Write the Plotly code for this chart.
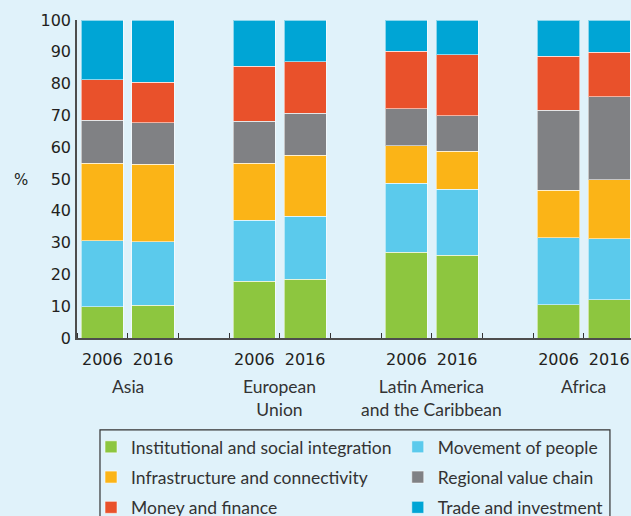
import plotly.graph_objects as go

# bar slots (gap slots between groups are left empty)
bar_x = [0, 1, 3, 4, 6, 7, 9, 10]
years = ["2006", "2016", "2006", "2016", "2006", "2016", "2006", "2016"]
group_x = [0.5, 3.5, 6.5, 9.5]
groups = ["Asia", "European<br>Union", "Latin America<br>and the Caribbean", "Africa"]

series_names = [
    "Institutional and social integration",
    "Movement of people",
    "Infrastructure and connectivity",
    "Regional value chain",
    "Money and finance",
    "Trade and investment",
]
colors = ["#8DC63F", "#5BCAEC", "#FBB417", "#808184", "#E9512B", "#00A5D5"]

# shares (%) per bar: Asia 06, Asia 16, EU 06, EU 16, LAC 06, LAC 16, Africa 06, Africa 16
institutional = [9.8, 10.3, 17.8, 18.4, 26.9, 26.0, 10.4, 12.0]
movement      = [20.8, 19.9, 19.2, 19.9, 21.7, 20.8, 21.2, 19.2]
infrastructure = [24.3, 24.4, 17.9, 19.2, 11.9, 12.0, 14.8, 18.6]
value_chain   = [13.6, 13.1, 13.2, 13.2, 11.6, 11.1, 25.2, 26.1]
money         = [12.7, 12.8, 17.4, 16.1, 18.1, 19.2, 17.0, 13.9]
trade         = [18.8, 19.5, 14.5, 13.2, 9.8, 10.9, 11.4, 10.2]

series_values = [institutional, movement, infrastructure, value_chain, money, trade]
legend_ids = ["legend", "legend2", "legend", "legend2", "legend", "legend2"]

BG = "#E0F2FA"
TXT = "#333333"

fig = go.Figure()
for name, vals, col, lg in zip(series_names, series_values, colors, legend_ids):
    fig.add_trace(go.Bar(
        x=bar_x, y=vals, name=name, width=0.83,
        marker=dict(color=col, line=dict(color="rgba(255,255,255,0.55)", width=1)),
        legend=lg, legendgroup=name,
    ))

for gx, gt in zip(group_x, groups):
    fig.add_annotation(x=gx, y=-0.113, xref="x", yref="paper", text=gt,
                       showarrow=False, yanchor="top", xanchor="center",
                       font=dict(family="Lato", size=17.5, color=TXT))

fig.add_annotation(x=-0.101, y=0.497, xref="paper", yref="paper", text="%",
                   showarrow=False, xanchor="center",
                   font=dict(family="DejaVu Sans", size=15, color="#231F20"))

# legend frame
fig.add_shape(type="rect", xref="paper", yref="paper",
              x0=0.0415, x1=0.962, y0=-0.289, y1=-0.65,
              line=dict(color="#333333", width=1.2), fillcolor="rgba(0,0,0,0)")

leg_common = dict(orientation="v", traceorder="grouped", tracegroupgap=4.5,
                  bgcolor="rgba(0,0,0,0)", borderwidth=0,
                  font=dict(family="Lato", size=17.5, color=TXT),
                  xanchor="left", yanchor="top", y=-0.286)

fig.update_layout(
    width=631, height=516,
    barmode="stack",
    paper_bgcolor=BG, plot_bgcolor=BG,
    margin=dict(l=77, r=0, t=20, b=178, autoexpand=False),
    showlegend=True,
    legend=dict(x=0.0253, **leg_common),
    legend2=dict(x=0.579, **leg_common),
    xaxis=dict(range=[-0.5, 10.43], tickmode="array", tickvals=bar_x, ticktext=years,
               ticks="", showgrid=False, zeroline=False,
               showline=True, linecolor="#4D4D4D", linewidth=1.5,
               ticklabelstandoff=6,
               tickfont=dict(family="DejaVu Sans", size=16, color="#231F20"),
               minor=dict(tickmode="linear", tick0=0.5, dtick=1, ticks="inside",
                          ticklen=5, tickwidth=1.2, tickcolor="#333333", showgrid=False)),
    yaxis=dict(range=[0, 100], tickmode="array", tickvals=list(range(0, 101, 10)),
               ticks="", showgrid=False, zeroline=False,
               showline=True, linecolor="#4D4D4D", linewidth=1.5,
               ticklabelstandoff=1,
               tickfont=dict(family="DejaVu Sans", size=16, color="#231F20")),
)

fig.write_html(
    "out.html",
    config={"displayModeBar": False},
    post_script="document.body.style.margin='0px';document.body.style.background='#E0F2FA';",
)
